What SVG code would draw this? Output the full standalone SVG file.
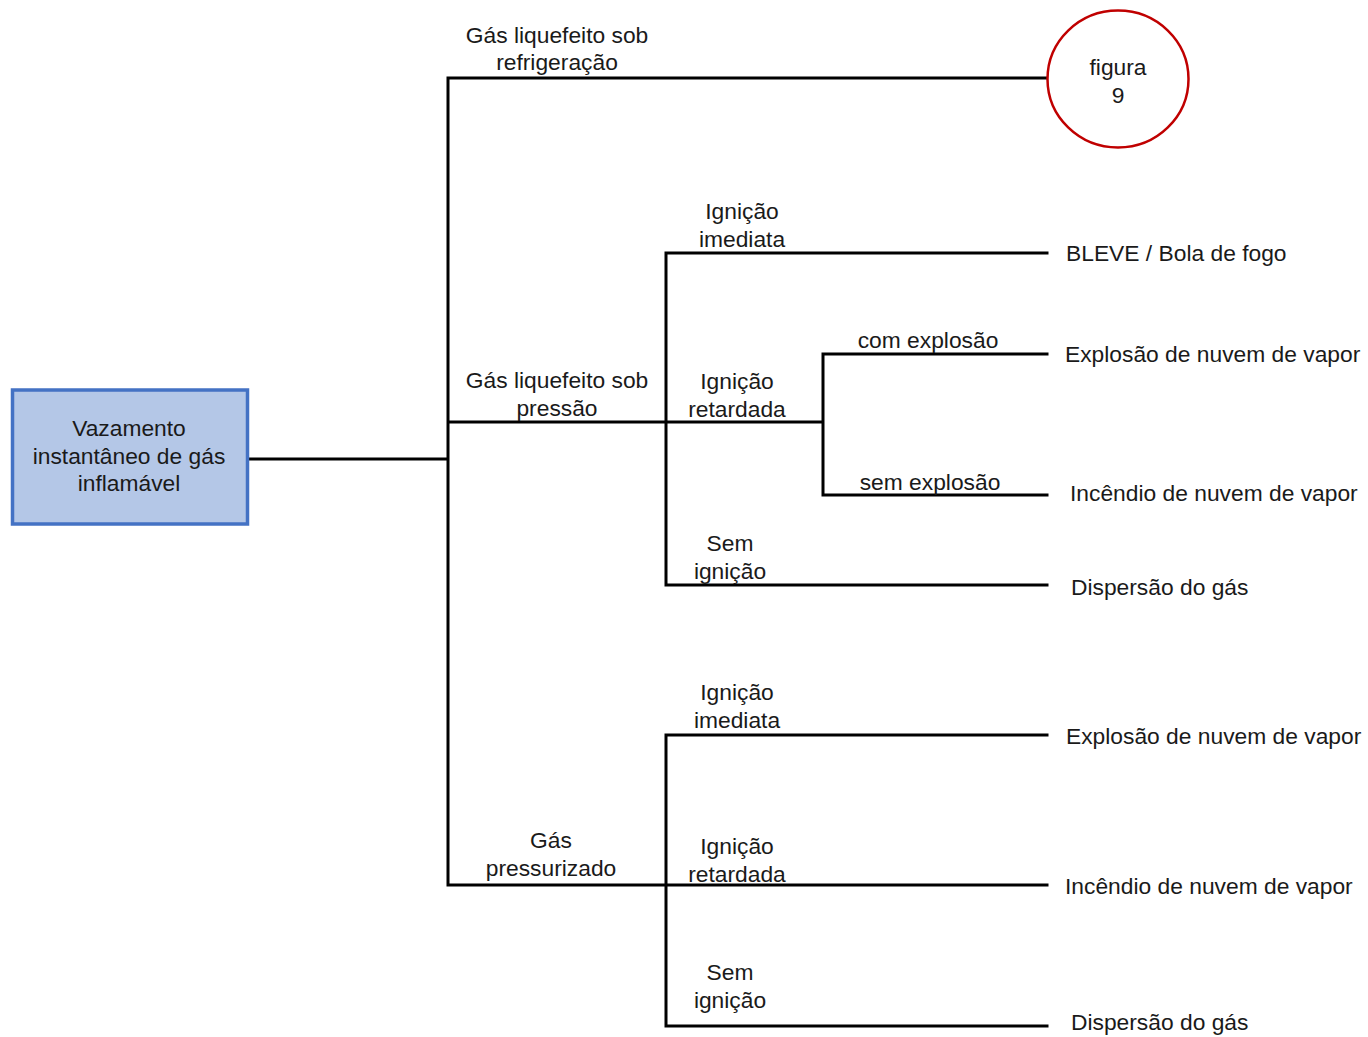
<svg xmlns="http://www.w3.org/2000/svg" width="1368" height="1037" viewBox="0 0 1368 1037">
<style>
text{font-family:"Liberation Sans",Arial,sans-serif;font-size:22.8px;fill:#1a1a1a}
.c{text-anchor:middle}
.l{text-anchor:start}
.ln{stroke:#000;stroke-width:3;fill:none;stroke-linecap:square}
</style>
<rect width="1368" height="1037" fill="#fff"/>
<g id="connectors">
<path class="ln" d="M249 459H448M448 78V885M448 78H1047M448 422H823M666 253V585M666 253H1047M823 354V495M823 354H1047M823 495H1047M666 585H1047M448 885H1047M666 735V1026M666 735H1047M666 1026H1047"/>
</g>
<g id="node-root">
<rect x="12.5" y="390" width="235" height="134" fill="#B4C7E7" stroke="#4472C4" stroke-width="3.5"/>
<text class="c" x="129" y="436">Vazamento</text>
<text class="c" x="129" y="464">instantâneo de gás</text>
<text class="c" x="129" y="491">inflamável</text>
</g>
<g id="node-figura9">
<ellipse cx="1118" cy="79" rx="70.5" ry="68.5" fill="#fff" stroke="#C00000" stroke-width="2.5"/>
<text class="c" x="1118" y="75">figura</text>
<text class="c" x="1118" y="103">9</text>
</g>
<g id="labels">
<text class="c" x="557" y="43">Gás liquefeito sob</text>
<text class="c" x="557" y="70">refrigeração</text>
<text class="c" x="742" y="219">Ignição</text>
<text class="c" x="742" y="247">imediata</text>
<text class="c" x="928" y="348">com explosão</text>
<text class="c" x="557" y="388">Gás liquefeito sob</text>
<text class="c" x="557" y="416">pressão</text>
<text class="c" x="737" y="389">Ignição</text>
<text class="c" x="737" y="417">retardada</text>
<text class="c" x="930" y="490">sem explosão</text>
<text class="c" x="730" y="551">Sem</text>
<text class="c" x="730" y="579">ignição</text>
<text class="c" x="737" y="700">Ignição</text>
<text class="c" x="737" y="728">imediata</text>
<text class="c" x="551" y="848">Gás</text>
<text class="c" x="551" y="876">pressurizado</text>
<text class="c" x="737" y="854">Ignição</text>
<text class="c" x="737" y="882">retardada</text>
<text class="c" x="730" y="980">Sem</text>
<text class="c" x="730" y="1008">ignição</text>
</g>
<g id="node-bleve"><text class="l" x="1066" y="261">BLEVE / Bola de fogo</text></g>
<g id="node-explosao1"><text class="l" x="1065" y="362">Explosão de nuvem de vapor</text></g>
<g id="node-incendio1"><text class="l" x="1070" y="501">Incêndio de nuvem de vapor</text></g>
<g id="node-dispersao1"><text class="l" x="1071" y="595">Dispersão do gás</text></g>
<g id="node-explosao2"><text class="l" x="1066" y="744">Explosão de nuvem de vapor</text></g>
<g id="node-incendio2"><text class="l" x="1065" y="894">Incêndio de nuvem de vapor</text></g>
<g id="node-dispersao2"><text class="l" x="1071" y="1030">Dispersão do gás</text></g>
</svg>
